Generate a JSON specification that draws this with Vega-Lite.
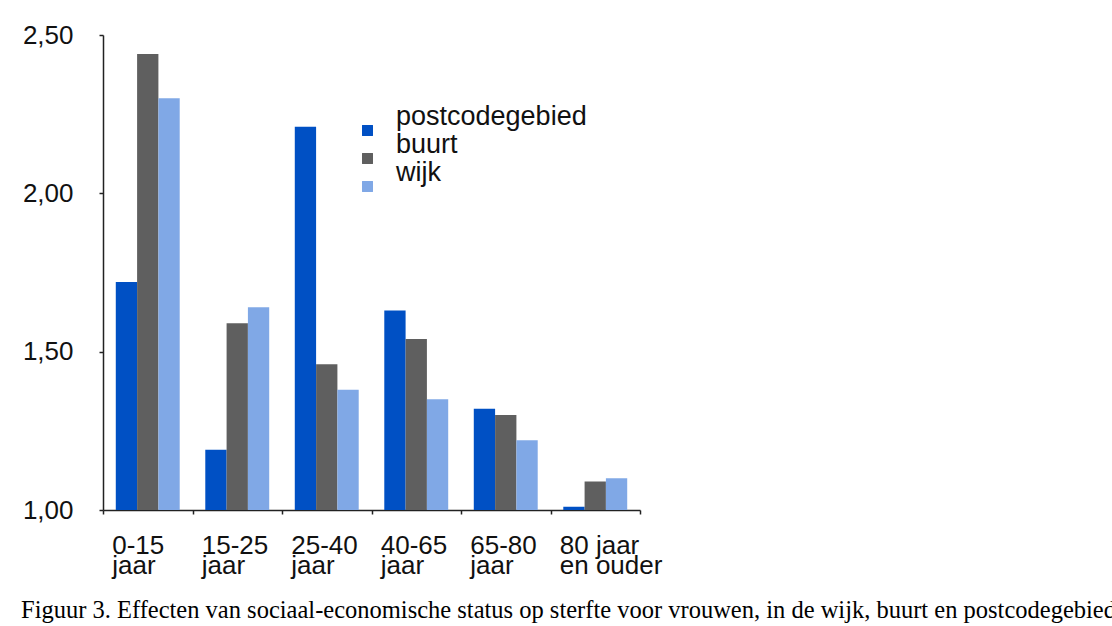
{
  "$schema": "https://vega.github.io/schema/vega-lite/v6.json",
  "autosize": {"type": "none"},
  "width": 537,
  "height": 475,
  "padding": {"left": 103, "top": 35, "right": 472, "bottom": 116},
  "background": "white",
  "config": {"view": {"stroke": null}},
  "title": {
    "text": "Figuur 3. Effecten van sociaal-economische status op sterfte voor vrouwen, in de wijk, buurt en postcodegebied",
    "orient": "bottom",
    "anchor": "start",
    "frame": "group",
    "dx": -82,
    "offset": 21,
    "font": "Liberation Serif",
    "fontSize": 24.5,
    "fontWeight": "normal",
    "color": "#000000",
    "baseline": "top",
    "limit": 0
  },
  "data": {
    "values": [
      {"leeftijd": "0-15 jaar", "niveau": "postcodegebied", "waarde": 1.72},
      {"leeftijd": "0-15 jaar", "niveau": "buurt", "waarde": 2.44},
      {"leeftijd": "0-15 jaar", "niveau": "wijk", "waarde": 2.30},
      {"leeftijd": "15-25 jaar", "niveau": "postcodegebied", "waarde": 1.19},
      {"leeftijd": "15-25 jaar", "niveau": "buurt", "waarde": 1.59},
      {"leeftijd": "15-25 jaar", "niveau": "wijk", "waarde": 1.64},
      {"leeftijd": "25-40 jaar", "niveau": "postcodegebied", "waarde": 2.21},
      {"leeftijd": "25-40 jaar", "niveau": "buurt", "waarde": 1.46},
      {"leeftijd": "25-40 jaar", "niveau": "wijk", "waarde": 1.38},
      {"leeftijd": "40-65 jaar", "niveau": "postcodegebied", "waarde": 1.63},
      {"leeftijd": "40-65 jaar", "niveau": "buurt", "waarde": 1.54},
      {"leeftijd": "40-65 jaar", "niveau": "wijk", "waarde": 1.35},
      {"leeftijd": "65-80 jaar", "niveau": "postcodegebied", "waarde": 1.32},
      {"leeftijd": "65-80 jaar", "niveau": "buurt", "waarde": 1.30},
      {"leeftijd": "65-80 jaar", "niveau": "wijk", "waarde": 1.22},
      {"leeftijd": "80 jaar en ouder", "niveau": "postcodegebied", "waarde": 1.01},
      {"leeftijd": "80 jaar en ouder", "niveau": "buurt", "waarde": 1.09},
      {"leeftijd": "80 jaar en ouder", "niveau": "wijk", "waarde": 1.10}
    ]
  },
  "mark": {"type": "bar", "clip": true},
  "encoding": {
    "x": {
      "field": "leeftijd",
      "type": "nominal",
      "sort": null,
      "scale": {"paddingInner": 0, "paddingOuter": 0},
      "axis": {
        "title": null,
        "labelAngle": 0,
        "tickBand": "extent",
        "labelAlign": "left",
        "labelBaseline": "top",
        "labelOffset": -36,
        "labelPadding": 18,
        "labelFont": "Liberation Sans",
        "labelFontSize": 26,
        "labelLineHeight": 20,
        "labelColor": "#111111",
        "labelBound": false,
        "labelOverlap": false,
        "labelExpr": "!isValid(datum.value) ? '' : (datum.value == '80 jaar en ouder' ? ['80 jaar', 'en ouder'] : split(datum.value, ' '))",
        "domainColor": "#222222",
        "domainWidth": 1.5,
        "tickColor": "#222222",
        "tickSize": 4,
        "tickWidth": 1.5
      }
    },
    "xOffset": {"field": "niveau", "type": "nominal", "sort": ["postcodegebied", "buurt", "wijk"], "scale": {"paddingInner": 0, "paddingOuter": 0.6}},
    "y": {
      "field": "waarde",
      "type": "quantitative",
      "scale": {"domain": [1, 2.5], "zero": false, "nice": false},
      "axis": {
        "title": null,
        "values": [1, 1.5, 2, 2.5],
        "labelExpr": "replace(format(datum.value, '.2f'), '.', ',')",
        "labelFont": "Liberation Sans",
        "labelFontSize": 26,
        "labelColor": "#111111",
        "labelPadding": 26,
        "grid": false,
        "domainColor": "#222222",
        "domainWidth": 1.5,
        "tickColor": "#222222",
        "tickSize": 4,
        "tickWidth": 1.5
      }
    },
    "color": {
      "field": "niveau",
      "type": "nominal",
      "sort": ["postcodegebied", "buurt", "wijk"],
      "scale": {"domain": ["postcodegebied", "buurt", "wijk"], "range": ["#0050c4", "#5f5f5f", "#80a8e6"]},
      "legend": {
        "title": null,
        "orient": "none",
        "legendX": 251,
        "legendY": 82,
        "symbolType": "square",
        "symbolSize": 120,
        "symbolStrokeWidth": 0,
        "labelFont": "Liberation Sans",
        "labelFontSize": 27,
        "labelLimit": 400,
        "labelColor": "#111111",
        "labelOffset": 15,
        "labelBaseline": "bottom",
        "rowPadding": -6
      }
    }
  }
}
